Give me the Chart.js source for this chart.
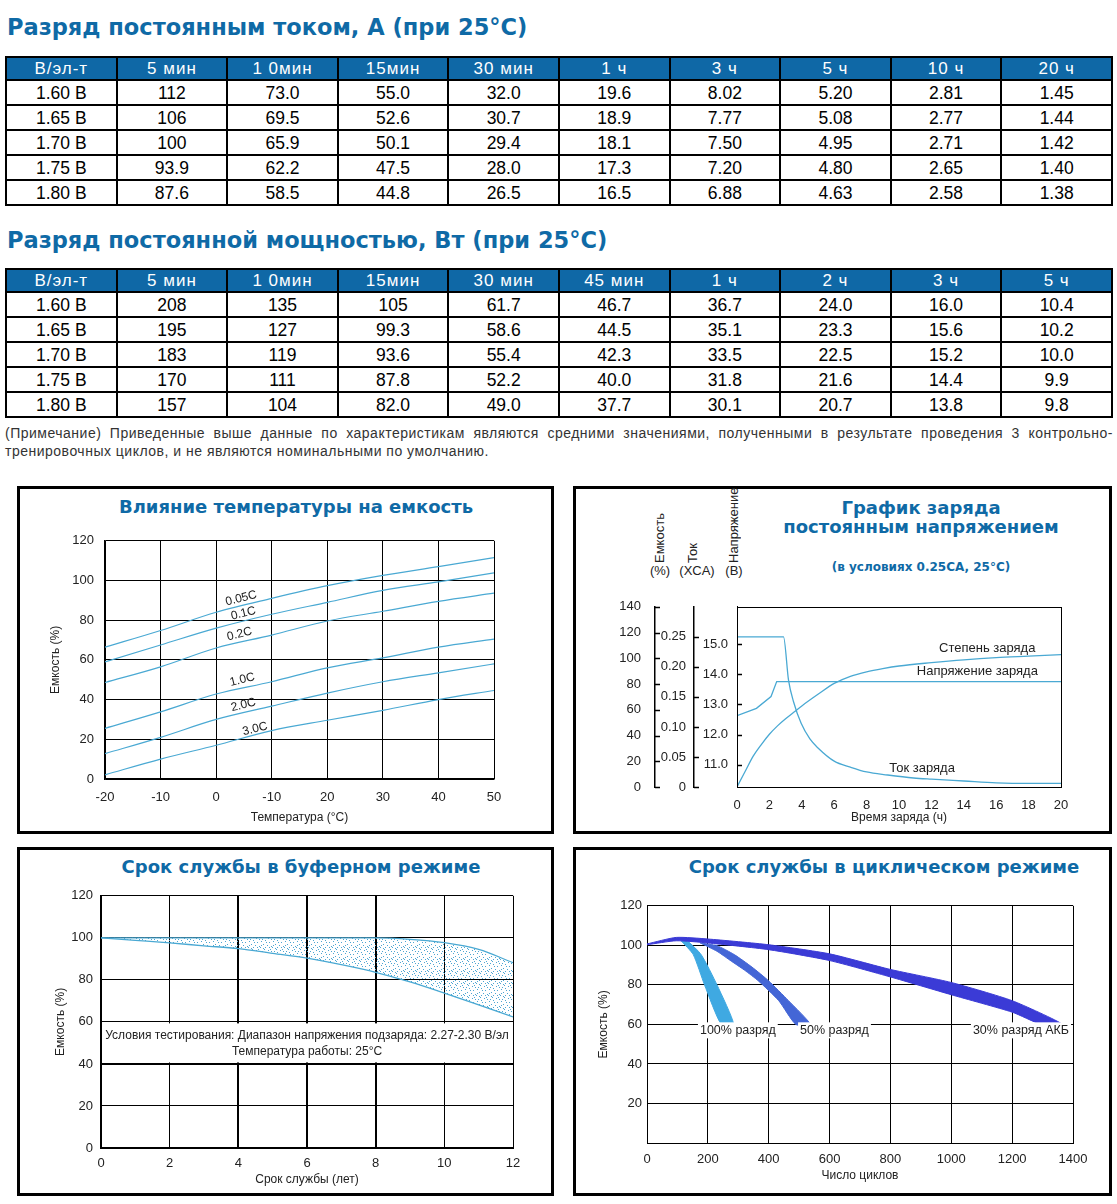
<!DOCTYPE html>
<html lang="ru">
<head>
<meta charset="utf-8">
<title>Характеристики разряда и срок службы</title>
<script src="https://cdn.jsdelivr.net/npm/chart.js@4.4.1/dist/chart.umd.min.js"></script>
<style>
  body { margin: 0; background: #fff; }
  #page { position: relative; width: 1117px; height: 1204px; font-family: "Liberation Sans", Arial, sans-serif; color: #000; }
  .head { position: absolute; left: 7px; margin: 0; font: bold 22.5px "DejaVu Sans", sans-serif; color: #0f6aa6; white-space: nowrap; line-height: 26px; }
  table.spec { position: absolute; left: 5px; width: 1108px; border-collapse: collapse; table-layout: fixed; font-size: 17.5px; }
  table.spec th, table.spec td { border: 2px solid #000; text-align: center; padding: 0; line-height: 19px; }
  table.spec th { background: #0f68a6; color: #fff; font-weight: normal; font-size: 17px; letter-spacing: 1px; height: 21px; }
  table.spec td { height: 21px; padding-top: 2px; }
  .note { position: absolute; left: 5px; top: 424px; width: 1108px; font-size: 14px; line-height: 18px; color: #333; letter-spacing: 0.5px; }
  .note .l1 { text-align: justify; text-align-last: justify; }
  .box { position: absolute; border: 3px solid #000; box-sizing: border-box; }
  .ctitle { position: absolute; width: 500px; text-align: center; font: bold 18px "DejaVu Sans", sans-serif; color: #0f6aa6; white-space: nowrap; line-height: 20px; }
  canvas { position: absolute; }
  .vt { position: absolute; writing-mode: vertical-rl; transform: rotate(180deg); font-size: 13px; line-height: 14px; width: 14px; white-space: nowrap; color: #222; }
  .vu { position: absolute; width: 40px; text-align: center; font-size: 13px; color: #222; }
</style>
</head>
<body>
<div id="page">
  <div class="head" style="top:14px">Разряд постоянным током, А (при 25°C)</div>
  <table class="spec" id="currentTable" style="top:56px"></table>

  <div class="head" style="top:227px">Разряд постоянной мощностью, Вт (при 25°C)</div>
  <table class="spec" id="powerTable" style="top:268px"></table>

  <div class="note">
    <div class="l1">(Примечание) Приведенные выше данные по характеристикам являются средними значениями, полученными в результате проведения 3 контрольно-</div>
    <div>тренировочных циклов, и не являются номинальными по умолчанию.</div>
  </div>

  <div class="box" style="left:17px;top:486px;width:537px;height:348px"></div>
  <div class="box" style="left:573px;top:486px;width:539px;height:348px"></div>
  <div class="box" style="left:17px;top:847px;width:537px;height:349px"></div>
  <div class="box" style="left:573px;top:847px;width:539px;height:349px"></div>

  <div class="ctitle" style="left:46px;top:497px">Влияние температуры на емкость</div>
  <div class="ctitle" style="left:671px;top:498px">График заряда</div>
  <div class="ctitle" style="left:671px;top:517px">постоянным напряжением</div>
  <div class="ctitle" style="left:671px;top:557px;font-size:12px">(в условиях 0.25CA, 25°C)</div>
  <div class="ctitle" style="left:51px;top:857px">Срок службы в буферном режиме</div>
  <div class="ctitle" style="left:634px;top:857px">Срок службы в циклическом режиме</div>

  <div class="vt" style="left:653px;top:505px;height:58px">Емкость</div>
  <div class="vt" style="left:686px;top:505px;height:58px">Ток</div>
  <div class="vt" style="left:727px;top:485px;height:78px">Напряжение</div>
  <div class="vu" style="left:640px;top:563px">(%)</div>
  <div class="vu" style="left:677px;top:563px">(XCA)</div>
  <div class="vu" style="left:714px;top:563px">(В)</div>

  <canvas id="tempChart" width="530" height="308" style="left:20px;top:522px"></canvas>
  <canvas id="chargeChart" width="515" height="245" style="left:590px;top:585px"></canvas>
  <canvas id="floatChart" width="530" height="312" style="left:20px;top:880px"></canvas>
  <canvas id="cycleChart" width="515" height="299" style="left:590px;top:893px"></canvas>
</div>

<script>
// ---- таблицы ----
const cellVolts = ["1.60 В", "1.65 В", "1.70 В", "1.75 В", "1.80 В"];
const currentCols = ["5 мин", "1 0мин", "15мин", "30 мин", "1 ч", "3 ч", "5 ч", "10 ч", "20 ч"];
const currentAmps = [
    ["112", "73.0", "55.0", "32.0", "19.6", "8.02", "5.20", "2.81", "1.45"],
    ["106", "69.5", "52.6", "30.7", "18.9", "7.77", "5.08", "2.77", "1.44"],
    ["100", "65.9", "50.1", "29.4", "18.1", "7.50", "4.95", "2.71", "1.42"],
    ["93.9", "62.2", "47.5", "28.0", "17.3", "7.20", "4.80", "2.65", "1.40"],
    ["87.6", "58.5", "44.8", "26.5", "16.5", "6.88", "4.63", "2.58", "1.38"],
];
const powerCols = ["5 мин", "1 0мин", "15мин", "30 мин", "45 мин", "1 ч", "2 ч", "3 ч", "5 ч"];
const powerWatts = [
    ["208", "135", "105", "61.7", "46.7", "36.7", "24.0", "16.0", "10.4"],
    ["195", "127", "99.3", "58.6", "44.5", "35.1", "23.3", "15.6", "10.2"],
    ["183", "119", "93.6", "55.4", "42.3", "33.5", "22.5", "15.2", "10.0"],
    ["170", "111", "87.8", "52.2", "40.0", "31.8", "21.6", "14.4", "9.9"],
    ["157", "104", "82.0", "49.0", "37.7", "30.1", "20.7", "13.8", "9.8"],
];

// ---- влияние температуры ----
const tempX = [-20, -10, 0, 10, 20, 30, 40, 50];
const tempTickLabels = ["-20", "-10", "0", "-10", "20", "30", "40", "50"];
const rateNames = ["0.05C", "0.1C", "0.2C", "1.0C", "2.0C", "3.0C"];
const cap005 = [66.4, 74.8, 84, 91, 97.4, 102.6, 107, 111.5];
const cap01 = [59, 67.5, 76, 83, 89, 95, 99.3, 103.8];
const cap02 = [48.6, 56.5, 66, 72.5, 79.6, 84.5, 89.5, 93.6];
const cap10 = [25.5, 33.8, 42.8, 49, 56, 61, 66.4, 70.5];
const cap20 = [12.8, 21, 30, 36.7, 43.3, 49, 53.5, 58];
const cap30 = [2.1, 10, 17, 24.4, 29.6, 34.6, 40, 44.6];

// ---- заряд постоянным напряжением ----
const chargeSocHours = [0, 0.5, 1, 1.5, 2, 2.5, 3, 3.5, 4, 5, 6, 7, 8, 9, 10, 12, 14, 16, 18, 20];
const chargeSocPct = [0, 12, 24, 33, 41, 47.5, 53, 58, 63, 72, 80.5, 86, 89.5, 92, 94, 96.6, 98.8, 100.5, 101.7, 102.9];
const chargeVoltHours = [0, 1.2, 2.1, 2.45, 20];
const chargeVolt = [12.63, 12.87, 13.26, 13.76, 13.76];
const chargeCurHours = [0, 2.87, 3.18, 3.49, 3.96, 4.5, 5, 6, 7, 8, 9.3, 10.9, 12, 14, 16, 18, 20];
const chargeCur = [0.25, 0.25, 0.178, 0.142, 0.106, 0.08, 0.065, 0.043, 0.033, 0.025, 0.02, 0.015, 0.013, 0.01, 0.007, 0.006, 0.006];
const curTicks = [0, 0.05, 0.1, 0.15, 0.2, 0.25];
const voltTicks = [11, 12, 13, 14, 15];

// ---- буферный режим ----
const floatYears = [0, 1, 2, 3, 4, 5, 6, 7, 8, 9, 10, 11, 12];
const floatUpper = [100, 100, 100, 100, 100, 100, 100, 100, 100, 99.3, 97.7, 94.5, 88.2];
const floatLower = [100, 98.8, 97.6, 96.2, 94.9, 92.6, 90.3, 87.2, 83.6, 79, 73.7, 68.1, 62.4];
const floatNote = ["Условия тестирования: Диапазон напряжения подзаряда: 2.27-2.30 В/эл", "Температура работы: 25°C"];

// ---- циклический режим ----
const dod30Outer = [[0, 100.7], [96, 104], [200, 103.2], [400, 100.3], [600, 95.7], [800, 87.8], [1000, 81.2], [1200, 72], [1366, 60]];
const dod30Inner = [[0, 100.3], [96, 102.3], [200, 101.2], [400, 97.8], [600, 92.3], [800, 84], [1000, 75], [1200, 66.2], [1296, 60]];
const dod50Outer = [[175, 101.2], [230, 99.8], [287, 95.3], [345, 89], [400, 82], [465, 72], [537, 60]];
const dod50Inner = [[175, 101.2], [230, 97], [277, 92], [320, 87.5], [366, 82], [433, 72], [489, 60]];
const dod100Outer = [[112, 102.3], [132, 102.3], [178, 95.3], [230, 80], [285, 60]];
const dod100Inner = [[112, 102.3], [152, 95.3], [189, 80], [244, 60]];
const dodNames = ["30% разряд АКБ", "50% разряд", "100% разряд"];

// ---- general settings ----
const lineBlue = "#4aa9d3";
Chart.defaults.font.family = "'Liberation Sans', Arial, sans-serif";
Chart.defaults.font.size = 12;
Chart.defaults.color = "#222";
Chart.defaults.animation = false;
Chart.defaults.plugins.legend.display = false;
Chart.defaults.plugins.tooltip.enabled = false;
Chart.defaults.elements.point.radius = 0;

const fillTable = (id, cols, rows) => {
    let html = "<tr><th>В/эл-т</th>" + cols.map((c) => `<th>${c}</th>`).join("") + "</tr>";
    rows.forEach((row, i) => {
        html += `<tr><td>${cellVolts[i]}</td>` + row.map((v) => `<td>${v}</td>`).join("") + "</tr>";
    });
    document.getElementById(id).innerHTML = html;
};
fillTable("currentTable", currentCols, currentAmps);
fillTable("powerTable", powerCols, powerWatts);

const toPoints = (xs, ys) => xs.map((x, i) => ({ x: x, y: ys[i] }));
const pairsToPoints = (pairs) => pairs.map((p) => ({ x: p[0], y: p[1] }));
const blackGrid = (width) => ({ color: "#000", lineWidth: width || 1, drawTicks: false });

// text near curves
const textLabels = {
    id: "textLabels",
    afterDatasetsDraw(chart, args, opts) {
        const ctx = chart.ctx;
        const yScale = chart.scales[opts.yAxis || "y"];
        ctx.save();
        ctx.font = opts.font;
        ctx.fillStyle = "#222";
        opts.items.forEach((item) => {
            const px = chart.scales.x.getPixelForValue(item.x);
            const py = yScale.getPixelForValue(item.y);
            ctx.save();
            ctx.translate(px, py);
            ctx.rotate(((opts.rotation || 0) * Math.PI) / 180);
            ctx.textAlign = opts.align || "center";
            ctx.textBaseline = "middle";
            if (opts.whiteBack) {
                const w = ctx.measureText(item.text).width;
                ctx.fillStyle = "#fff";
                ctx.fillRect(-2, -8, w + 4, 16);
                ctx.fillStyle = "#222";
            }
            ctx.fillText(item.text, 0, 0);
            ctx.restore();
        });
        ctx.restore();
    },
};

// ---- chart 1 ----
const capByRate = [cap005, cap01, cap02, cap10, cap20, cap30];
new Chart(document.getElementById("tempChart"), {
    type: "line",
    data: {
        datasets: capByRate.map((vals, i) => ({
            label: rateNames[i],
            data: toPoints(tempX, vals),
            borderColor: lineBlue,
            borderWidth: 1.2,
            cubicInterpolationMode: "monotone",
        })),
    },
    options: {
        responsive: false,
        layout: { padding: { top: 15, right: 56, left: 0, bottom: 0 } },
        scales: {
            x: {
                type: "linear", min: -20, max: 50,
                ticks: { stepSize: 10, padding: 11, font: { size: 13 }, callback: (v, i) => tempTickLabels[i] },
                grid: blackGrid(), border: { color: "#000", width: 1.5 },
                title: { display: true, text: "Температура (°C)", padding: { bottom: 5 } },
                afterFit: (s) => { s.height = 51; },
            },
            y: {
                min: 0, max: 120,
                ticks: { stepSize: 20, padding: 11, font: { size: 13 } },
                grid: blackGrid(), border: { color: "#000", width: 1.5 },
                title: { display: true, text: "Емкость (%)", padding: { top: 28 } },
                afterFit: (s) => { s.width = 85; },
            },
        },
        plugins: {
            textLabels: {
                font: "12px 'Liberation Sans', Arial, sans-serif",
                rotation: -14,
                items: [
                    { text: rateNames[0], x: 4.5, y: 91 },
                    { text: rateNames[1], x: 4.9, y: 83.4 },
                    { text: rateNames[2], x: 4.2, y: 73 },
                    { text: rateNames[3], x: 4.7, y: 50 },
                    { text: rateNames[4], x: 4.9, y: 37.3 },
                    { text: rateNames[5], x: 7, y: 25.2 },
                ],
            },
        },
    },
    plugins: [textLabels],
});

// ---- chart 2 ----
const chargeFrame = {
    id: "chargeFrame",
    afterDraw(chart) {
        const ctx = chart.ctx;
        const a = chart.chartArea;
        ctx.save();
        ctx.strokeStyle = "#000";
        ctx.lineWidth = 1;
        ctx.strokeRect(Math.round(a.left) + 0.5, Math.round(a.top) + 0.5, Math.round(a.right - a.left), Math.round(a.bottom - a.top));
        ctx.lineWidth = 1.5;
        ["cap", "cur", "volt"].forEach((id) => {
            const s = chart.scales[id];
            s.ticks.forEach((t) => {
                const y = Math.round(s.getPixelForValue(t.value)) + 0.5;
                ctx.beginPath();
                ctx.moveTo(s.right, y);
                ctx.lineTo(s.right + 5, y);
                ctx.stroke();
            });
        });
        ctx.restore();
    },
};
new Chart(document.getElementById("chargeChart"), {
    type: "line",
    data: {
        datasets: [
            { label: "Степень заряда", data: toPoints(chargeSocHours, chargeSocPct), yAxisID: "cap", borderColor: lineBlue, borderWidth: 1.3, cubicInterpolationMode: "monotone" },
            { label: "Напряжение заряда", data: toPoints(chargeVoltHours, chargeVolt), yAxisID: "volt", borderColor: lineBlue, borderWidth: 1.3, tension: 0 },
            { label: "Ток заряда", data: toPoints(chargeCurHours, chargeCur), yAxisID: "cur", borderColor: lineBlue, borderWidth: 1.3, cubicInterpolationMode: "monotone" },
        ],
    },
    options: {
        responsive: false,
        layout: { padding: { top: 10, right: 44, left: 0, bottom: 0 } },
        scales: {
            x: {
                type: "linear", min: 0, max: 20,
                ticks: { stepSize: 2, padding: 3, font: { size: 13 } },
                grid: { display: false }, border: { color: "#000", width: 1 },
                title: { display: true, text: "Время заряда (ч)", padding: { bottom: 5 } },
                afterFit: (s) => { s.height = 43; },
            },
            cap: {
                axis: "y", position: "left", weight: 3, min: 0, max: 140,
                ticks: { stepSize: 20, padding: 14, font: { size: 13 } },
                grid: { drawOnChartArea: false, drawTicks: false }, border: { color: "#000", width: 1.5 },
                afterFit: (s) => { s.width = 65; },
            },
            cur: {
                axis: "y", position: "left", weight: 2, min: 0, max: 0.3,
                afterBuildTicks: (s) => { s.ticks = curTicks.map((v) => ({ value: v })); },
                ticks: { padding: 8, font: { size: 13 }, callback: (v) => (v === 0 ? "0" : v.toFixed(2)) },
                grid: { drawOnChartArea: false, drawTicks: false }, border: { color: "#000", width: 1.5 },
                afterFit: (s) => { s.width = 39; },
            },
            volt: {
                axis: "y", position: "left", weight: 1, min: 10.26, max: 16.24,
                afterBuildTicks: (s) => { s.ticks = voltTicks.map((v) => ({ value: v })); },
                ticks: { padding: 9, font: { size: 13 }, callback: (v) => v.toFixed(1) },
                grid: { drawOnChartArea: false, drawTicks: false }, border: { color: "#000", width: 1 },
                afterFit: (s) => { s.width = 43; },
            },
        },
        plugins: {
            textLabels: {
                yAxis: "cap",
                align: "left",
                font: "13px 'Liberation Sans', Arial, sans-serif",
                items: [
                    { text: "Степень заряда", x: 12.47, y: 108 },
                    { text: "Напряжение заряда", x: 11.1, y: 90 },
                    { text: "Ток заряда", x: 9.4, y: 14.4 },
                ],
            },
        },
    },
    plugins: [textLabels, chargeFrame],
});

// ---- chart 3 ----
const dotTile = document.createElement("canvas");
dotTile.width = 12;
dotTile.height = 12;
const dt = dotTile.getContext("2d");
dt.fillStyle = "#4ea6d2";
[[1, 1], [5, 0], [9, 2], [3, 4], [7, 5], [11, 6], [0, 7], [4, 9], [8, 10], [2, 11], [10, 9], [6, 2], [1, 5], [9, 7], [5, 7], [11, 11], [3, 8]]
    .forEach((p) => dt.fillRect(p[0], p[1], 1, 1));
const dotFill = dt.createPattern(dotTile, "repeat");

const floatBand = {
    id: "floatBand",
    beforeDatasetsDraw(chart) {
        const ctx = chart.ctx;
        const a = chart.chartArea;
        const y60 = chart.scales.y.getPixelForValue(60);
        const y40 = chart.scales.y.getPixelForValue(40);
        ctx.save();
        ctx.fillStyle = "#fff";
        ctx.fillRect(a.left + 1.5, y60 + 1.5, a.right - a.left - 3, y40 - y60 - 3);
        ctx.fillStyle = "#222";
        ctx.font = "12px 'Liberation Sans', Arial, sans-serif";
        ctx.textAlign = "center";
        ctx.textBaseline = "middle";
        const mid = (y60 + y40) / 2;
        ctx.fillText(floatNote[0], (a.left + a.right) / 2, mid - 7);
        ctx.fillText(floatNote[1], (a.left + a.right) / 2, mid + 9);
        ctx.restore();
    },
};
const floatShape = toPoints(floatYears, floatUpper).concat(toPoints(floatYears, floatLower).reverse());
new Chart(document.getElementById("floatChart"), {
    type: "line",
    data: {
        datasets: [
            { data: floatShape, fill: "shape", backgroundColor: dotFill, borderWidth: 0, tension: 0 },
            { data: toPoints(floatYears, floatUpper), borderColor: lineBlue, borderWidth: 1.3, cubicInterpolationMode: "monotone" },
            { data: toPoints(floatYears, floatLower), borderColor: lineBlue, borderWidth: 1.3, cubicInterpolationMode: "monotone" },
        ],
    },
    options: {
        responsive: false,
        layout: { padding: { top: 11, right: 37, left: 0, bottom: 0 } },
        scales: {
            x: {
                type: "linear", min: 0, max: 12,
                ticks: { stepSize: 2, padding: 8, font: { size: 13 } },
                grid: { color: "#000", drawTicks: false, lineWidth: (c) => ([4, 6, 8].includes(c.tick && c.tick.value) ? 2 : 1) },
                border: { color: "#000", width: 2 },
                title: { display: true, text: "Срок службы (лет)", padding: { bottom: 5 } },
                afterFit: (s) => { s.height = 44; },
            },
            y: {
                min: 0, max: 120,
                ticks: { stepSize: 20, padding: 8, font: { size: 13 } },
                grid: { color: "#000", drawTicks: false, lineWidth: (c) => (c.tick && c.tick.value === 40 ? 2 : 1) },
                border: { color: "#000", width: 2 },
                title: { display: true, text: "Емкость (%)", padding: { top: 33 } },
                afterFit: (s) => { s.width = 81; },
            },
        },
    },
    plugins: [floatBand],
});

// ---- chart 4 ----
const bandShape = (outer, inner) => pairsToPoints(outer).concat(pairsToPoints(inner).reverse());
const bandColors = ["#3b3bd6", "#4466d6", "#3fa9e2"];
const bands = [bandShape(dod30Outer, dod30Inner), bandShape(dod50Outer, dod50Inner), bandShape(dod100Outer, dod100Inner)];
new Chart(document.getElementById("cycleChart"), {
    type: "line",
    data: {
        datasets: bands.map((pts, i) => ({
            label: dodNames[i],
            data: pts,
            fill: "shape",
            backgroundColor: bandColors[i],
            borderColor: bandColors[i],
            borderWidth: 1,
            tension: 0.2,
        })),
    },
    options: {
        responsive: false,
        layout: { padding: { top: 11, right: 32, left: 0, bottom: 0 } },
        scales: {
            x: {
                type: "linear", min: 0, max: 1400,
                ticks: { stepSize: 200, padding: 9, font: { size: 13 }, callback: (v) => String(v) },
                grid: blackGrid(), border: { color: "#000", width: 1 },
                title: { display: true, text: "Число циклов", padding: { bottom: 9 } },
                afterFit: (s) => { s.height = 49; },
            },
            y: {
                min: 0, max: 120,
                ticks: { stepSize: 20, padding: 5, font: { size: 13 }, callback: (v) => (v === 0 ? "" : String(v)) },
                grid: blackGrid(), border: { color: "#000", width: 1 },
                title: { display: true, text: "Емкость (%)", padding: { top: 6 } },
                afterFit: (s) => { s.width = 57; },
            },
        },
        plugins: {
            textLabels: {
                align: "left",
                whiteBack: true,
                font: "12.5px 'Liberation Sans', Arial, sans-serif",
                items: [
                    { text: dodNames[2], x: 174, y: 57 },
                    { text: dodNames[1], x: 503, y: 57 },
                    { text: dodNames[0], x: 1071, y: 57 },
                ],
            },
        },
    },
    plugins: [textLabels],
});
</script>
</body>
</html>
